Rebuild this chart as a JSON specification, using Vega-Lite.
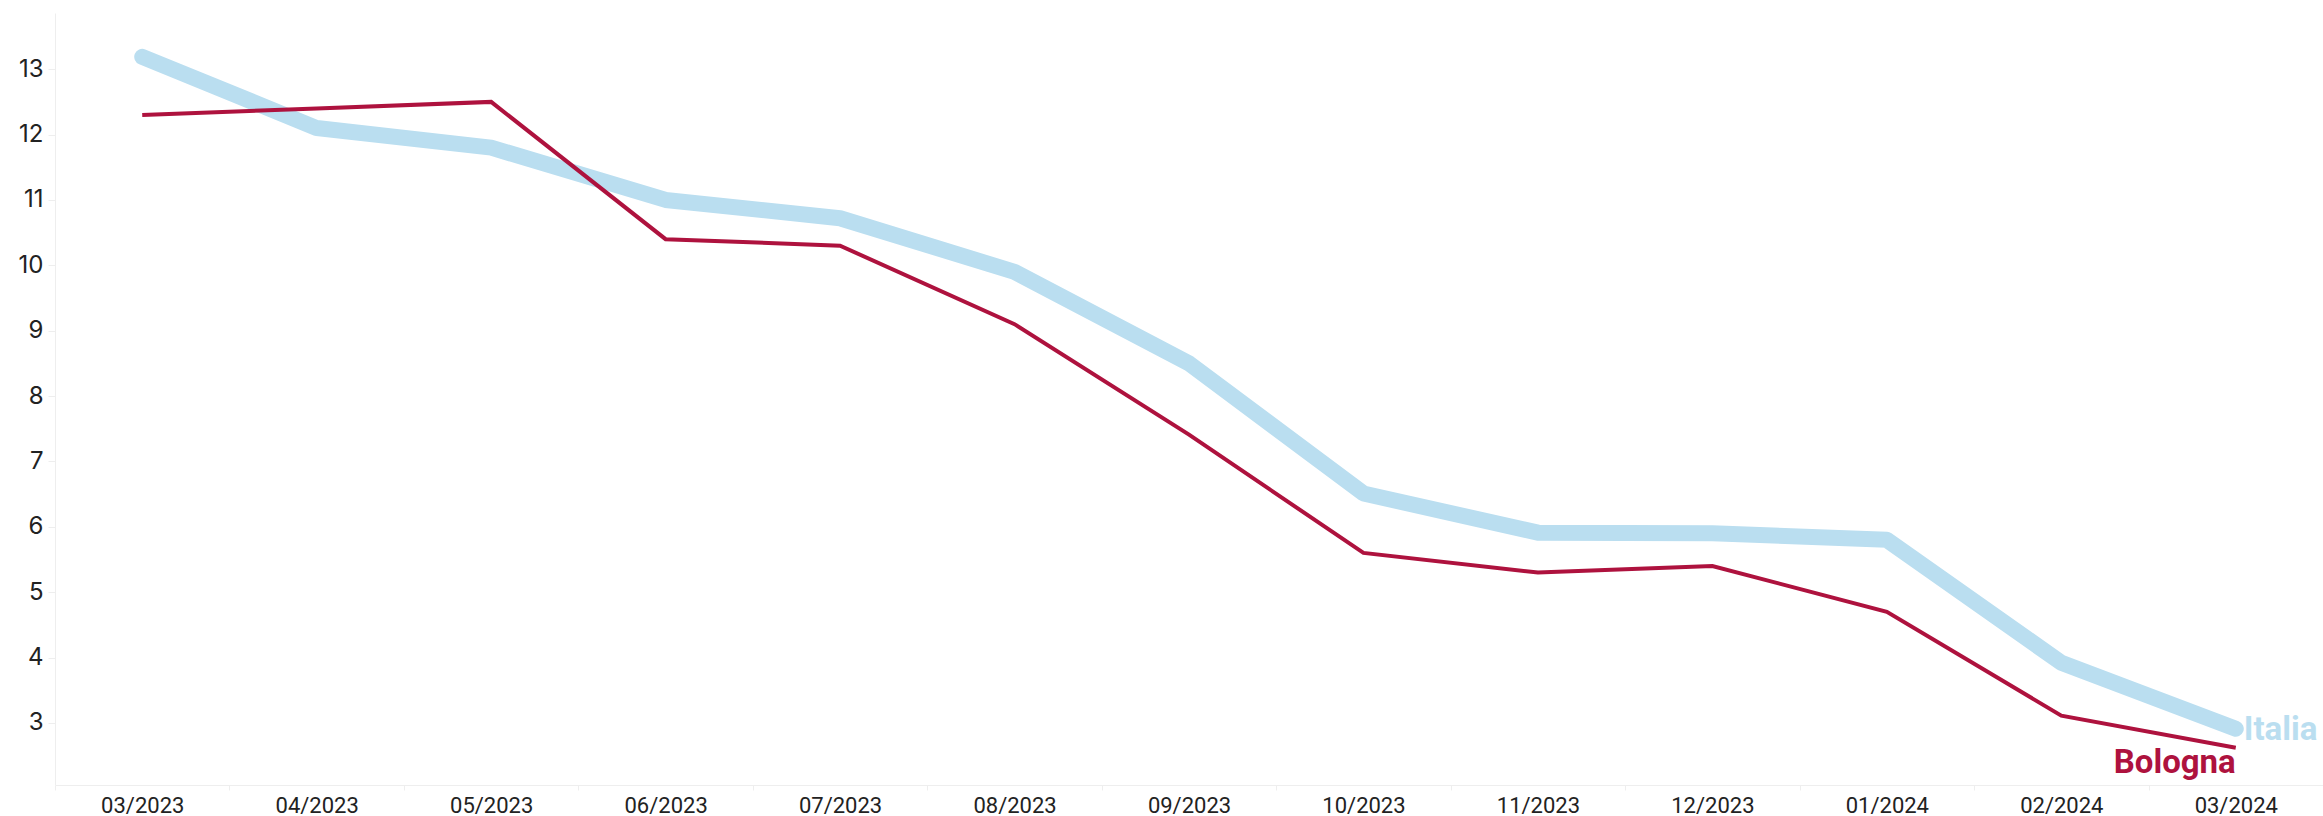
{
  "$schema": "https://vega.github.io/schema/vega-lite/v6.json",
  "width": 2268,
  "height": 772,
  "autosize": {"type": "none"},
  "padding": {"left": 55, "top": 13, "right": 0, "bottom": 31},
  "background": "white",
  "config": {"view": {"stroke": null}, "font": "Inter"},
  "data": {
    "values": [
      {"month": "03/2023", "series": "Italia", "value": 13.19},
      {"month": "04/2023", "series": "Italia", "value": 12.1},
      {"month": "05/2023", "series": "Italia", "value": 11.8},
      {"month": "06/2023", "series": "Italia", "value": 11.0},
      {"month": "07/2023", "series": "Italia", "value": 10.72},
      {"month": "08/2023", "series": "Italia", "value": 9.9},
      {"month": "09/2023", "series": "Italia", "value": 8.5},
      {"month": "10/2023", "series": "Italia", "value": 6.51},
      {"month": "11/2023", "series": "Italia", "value": 5.91},
      {"month": "12/2023", "series": "Italia", "value": 5.9},
      {"month": "01/2024", "series": "Italia", "value": 5.8},
      {"month": "02/2024", "series": "Italia", "value": 3.92},
      {"month": "03/2024", "series": "Italia", "value": 2.91},
      {"month": "03/2023", "series": "Bologna", "value": 12.3},
      {"month": "04/2023", "series": "Bologna", "value": 12.4},
      {"month": "05/2023", "series": "Bologna", "value": 12.5},
      {"month": "06/2023", "series": "Bologna", "value": 10.4},
      {"month": "07/2023", "series": "Bologna", "value": 10.3},
      {"month": "08/2023", "series": "Bologna", "value": 9.1},
      {"month": "09/2023", "series": "Bologna", "value": 7.41},
      {"month": "10/2023", "series": "Bologna", "value": 5.6},
      {"month": "11/2023", "series": "Bologna", "value": 5.3},
      {"month": "12/2023", "series": "Bologna", "value": 5.4},
      {"month": "01/2024", "series": "Bologna", "value": 4.7},
      {"month": "02/2024", "series": "Bologna", "value": 3.11},
      {"month": "03/2024", "series": "Bologna", "value": 2.62}
    ]
  },
  "encoding": {
    "x": {
      "field": "month",
      "type": "ordinal",
      "sort": ["03/2023", "04/2023", "05/2023", "06/2023", "07/2023", "08/2023", "09/2023", "10/2023", "11/2023", "12/2023", "01/2024", "02/2024", "03/2024"],
      "scale": {"type": "band", "paddingInner": 0, "paddingOuter": 0},
      "axis": {
        "title": null,
        "labelAngle": 0,
        "labelFont": "Roboto",
        "labelFontSize": 22,
        "labelFontWeight": "normal",
        "labelColor": "#222222",
        "labelPadding": 5,
        "tickSize": 5,
        "tickColor": "#eeeeee",
        "tickBand": "extent",
        "domainColor": "#eeeeee",
        "grid": false
      }
    },
    "y": {
      "field": "value",
      "type": "quantitative",
      "scale": {"domain": [2.05, 13.86], "nice": false, "zero": false},
      "axis": {
        "title": null,
        "values": [3, 4, 5, 6, 7, 8, 9, 10, 11, 12, 13],
        "labelFont": "Inter",
        "labelFontSize": 24,
        "labelColor": "#222222",
        "labelPadding": 5,
        "tickSize": 7,
        "tickColor": "#eeeeee",
        "domainColor": "#eeeeee",
        "labelOverlap": false,
        "grid": false
      }
    }
  },
  "layer": [
    {
      "transform": [{"filter": "datum.series === 'Italia'"}],
      "mark": {"type": "line", "color": "#BADEF0", "strokeWidth": 16, "strokeCap": "round", "strokeJoin": "round"}
    },
    {
      "transform": [{"filter": "datum.series === 'Bologna'"}],
      "mark": {"type": "line", "color": "#AE123E", "strokeWidth": 4, "strokeJoin": "miter"}
    },
    {
      "transform": [{"filter": "datum.series === 'Italia' && datum.month === '03/2024'"}],
      "mark": {"type": "text", "font": "Roboto", "align": "left", "baseline": "alphabetic", "dx": 8, "dy": 11, "fontSize": 33, "fontWeight": "bold", "color": "#BADEF0"},
      "encoding": {"text": {"field": "series"}}
    },
    {
      "transform": [{"filter": "datum.series === 'Bologna' && datum.month === '03/2024'"}],
      "mark": {"type": "text", "font": "Roboto", "align": "right", "baseline": "alphabetic", "dx": 0, "dy": 25, "fontSize": 33, "fontWeight": "bold", "color": "#AE123E"},
      "encoding": {"text": {"field": "series"}}
    }
  ]
}
